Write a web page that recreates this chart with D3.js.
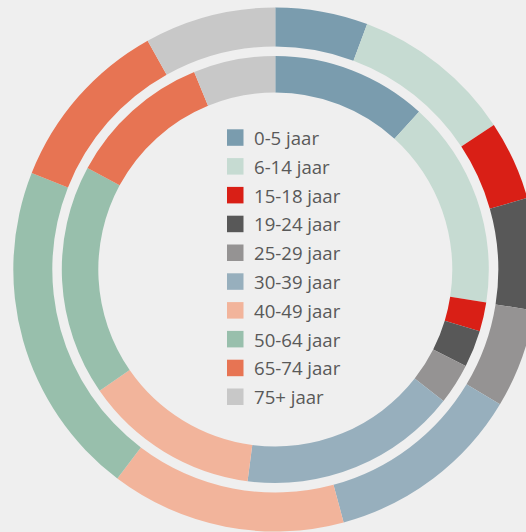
<!doctype html>
<html>
<head>
<style>
  * { margin: 0; padding: 0; }
  body { background: #efefef; width: 526px; height: 532px; overflow: hidden; }
  svg { display: block; }
</style>
</head>
<body>
<div id="chart"></div>
<script src="https://cdn.jsdelivr.net/npm/d3@7"></script>
<script>
var ageGroups = ['0-5 jaar', '6-14 jaar', '15-18 jaar', '19-24 jaar', '25-29 jaar',
                 '30-39 jaar', '40-49 jaar', '50-64 jaar', '65-74 jaar', '75+ jaar'];
var outerValues = [5.7, 10.0, 4.9, 6.9, 6.1, 12.2, 14.5, 20.7, 10.9, 8.1];
var innerValues = [11.75, 15.7, 2.2, 2.8, 3.1, 16.5, 13.3, 17.5, 10.9, 6.2];
var colors = ['#7a9cae', '#c6dbd2', '#d91f16', '#585858', '#959393',
              '#97afbd', '#f2b49b', '#98bfac', '#e77453', '#c8c8c8'];

var width = 526, height = 532;
var cx = 275.3, cy = 269.5;

var svg = d3.select('#chart').append('svg')
  .attr('width', width).attr('height', height);

var color = d3.scaleOrdinal().domain(ageGroups).range(colors);

var pie = d3.pie().sort(null).value(function(d) { return d.v; });

function ring(values, r0, r1, cls) {
  var data = values.map(function(v, i) { return { k: ageGroups[i], v: v }; });
  var arc = d3.arc().innerRadius(r0).outerRadius(r1);
  svg.append('g')
    .attr('class', cls)
    .attr('transform', 'translate(' + cx + ',' + cy + ')')
    .selectAll('path')
    .data(pie(data))
    .enter().append('path')
    .attr('d', arc)
    .attr('fill', function(d) { return color(d.data.k); });
}

ring(outerValues, 223, 262, 'outer');
ring(innerValues, 177, 213.5, 'inner');

// legend
var legendY = d3.scaleBand().domain(ageGroups).range([129.3, 129.3 + 28.8 * 10]);

var legend = svg.append('g').attr('class', 'legend')
  .selectAll('g')
  .data(ageGroups)
  .enter().append('g')
  .attr('transform', function(d) { return 'translate(227,' + legendY(d) + ')'; });

legend.append('rect')
  .attr('width', 16.5).attr('height', 16.5)
  .attr('fill', function(d) { return color(d); });

legend.append('text')
  .attr('x', 27).attr('y', 15.7)
  .attr('fill', '#595959')
  .style('font-family', '"Open Sans", sans-serif')
  .style('font-size', '18.6px')
  .text(function(d) { return d; });
</script>
</body>
</html>
